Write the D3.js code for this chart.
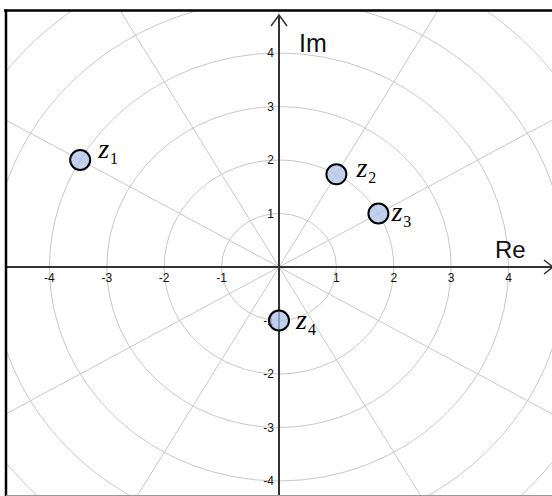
<!DOCTYPE html>
<html>
<head>
<meta charset="utf-8">
<script src="https://cdn.jsdelivr.net/npm/d3@7"></script>
<style>
  body { margin: 0; background: #fff; }
  svg { display: block; }
</style>
</head>
<body>
<svg id="chart"></svg>
<script>
// complex numbers to plot (real / imaginary parts)
let names = ['1', '2', '3', '4']
let reParts = [-3.464, 1, 1.732, 0]
let imParts = [2, 1.732, 1, -1]

// tick labels on both axes
let ticks = [-4, -3, -2, -1, 1, 2, 3, 4]

// polar grid: rings and spoke angles (degrees)
let rings = [1, 2, 3, 4, 5, 6, 7]
let spokes = [0, 30, 60, 90, 120, 150, 180, 210, 240, 270, 300, 330]

// label offsets from each point (layout only)
let labelDx = [18, 20, 13, 17]
let labelDy = [-2, 3, 7, 8]

let width = 552
let height = 496
let originX = 279
let originY = 267
let unitX = 57.4
let unitY = 53.5

let svg = d3.select('#chart')
    .attr('width', width)
    .attr('height', height)

let xScale = d3.scaleLinear()
    .domain([-4, 4])
    .range([originX - 4 * unitX, originX + 4 * unitX])

let yScale = d3.scaleLinear()
    .domain([-4, 4])
    .range([originY + 4 * unitY, originY - 4 * unitY])

// clip everything to the framed area
svg.append('clipPath')
    .attr('id', 'frame')
    .append('rect')
    .attr('x', 6)
    .attr('y', 10)
    .attr('width', width - 6)
    .attr('height', 485)

let plot = svg.append('g').attr('clip-path', 'url(#frame)')

// rings
plot.selectAll('ellipse.ring')
    .data(rings)
    .enter()
    .append('ellipse')
    .attr('class', 'ring')
    .attr('cx', xScale(0))
    .attr('cy', yScale(0))
    .attr('rx', (r) => xScale(r) - xScale(0))
    .attr('ry', (r) => yScale(0) - yScale(r))
    .attr('fill', 'none')
    .attr('stroke', '#c8c8c8')
    .attr('stroke-width', 1)

// spokes
plot.selectAll('line.spoke')
    .data(spokes)
    .enter()
    .append('line')
    .attr('class', 'spoke')
    .attr('x1', xScale(0))
    .attr('y1', yScale(0))
    .attr('x2', (a) => xScale(12 * Math.cos(a * Math.PI / 180)))
    .attr('y2', (a) => yScale(12 * Math.sin(a * Math.PI / 180)))
    .attr('stroke', '#c8c8c8')
    .attr('stroke-width', 1)

// axes
let axisColor = '#333'
plot.append('line')
    .attr('x1', 0).attr('x2', width)
    .attr('y1', yScale(0)).attr('y2', yScale(0))
    .attr('stroke', axisColor).attr('stroke-width', 2)

plot.append('line')
    .attr('x1', xScale(0)).attr('x2', xScale(0))
    .attr('y1', 15).attr('y2', height)
    .attr('stroke', axisColor).attr('stroke-width', 2)

// arrow heads
plot.append('path')
    .attr('d', 'M' + (xScale(0) - 8) + ',' + 26 + 'L' + xScale(0) + ',' + 15 + 'L' + (xScale(0) + 8) + ',' + 26)
    .attr('fill', 'none').attr('stroke', axisColor).attr('stroke-width', 1.5)

plot.append('path')
    .attr('d', 'M' + 544 + ',' + (yScale(0) - 7) + 'L' + 553 + ',' + yScale(0) + 'L' + 544 + ',' + (yScale(0) + 7))
    .attr('fill', 'none').attr('stroke', axisColor).attr('stroke-width', 1.5)

// tick labels
plot.selectAll('text.xtick')
    .data(ticks)
    .enter()
    .append('text')
    .attr('class', 'xtick')
    .attr('x', (t) => xScale(t))
    .attr('y', yScale(0) + 15)
    .attr('text-anchor', 'middle')
    .attr('font-family', 'Liberation Sans, Arial, sans-serif')
    .attr('font-size', 12)
    .attr('fill', '#111')
    .text((t) => t)

plot.selectAll('text.ytick')
    .data(ticks)
    .enter()
    .append('text')
    .attr('class', 'ytick')
    .attr('x', xScale(0) - 5)
    .attr('y', (t) => yScale(t) + 4)
    .attr('text-anchor', 'end')
    .attr('font-family', 'Liberation Sans, Arial, sans-serif')
    .attr('font-size', 12)
    .attr('fill', '#111')
    .text((t) => t)

// axis names
plot.append('text')
    .attr('x', 299).attr('y', 52)
    .attr('font-family', 'Liberation Sans, Arial, sans-serif')
    .attr('font-size', 25)
    .attr('fill', '#111')
    .text('Im')

plot.append('text')
    .attr('x', 495).attr('y', 258)
    .attr('font-family', 'Liberation Sans, Arial, sans-serif')
    .attr('font-size', 24)
    .attr('fill', '#111')
    .text('Re')

// points
let points = names.map((n, i) => ({ name: n, re: reParts[i], im: imParts[i], i: i }))

plot.selectAll('circle.pt')
    .data(points)
    .enter()
    .append('circle')
    .attr('class', 'pt')
    .attr('cx', (d) => xScale(d.re))
    .attr('cy', (d) => yScale(d.im))
    .attr('r', 10)
    .attr('fill', '#aec3e8')
    .attr('fill-opacity', 0.75)
    .attr('stroke', '#000')
    .attr('stroke-width', 2)

let labels = plot.selectAll('text.zlabel')
    .data(points)
    .enter()
    .append('text')
    .attr('class', 'zlabel')
    .attr('x', (d) => xScale(d.re) + labelDx[d.i])
    .attr('y', (d) => yScale(d.im) + labelDy[d.i])
    .attr('font-family', 'Liberation Serif, serif')
    .attr('fill', '#000')

labels.append('tspan')
    .attr('font-size', 28)
    .attr('font-style', 'italic')
    .text('z')

labels.append('tspan')
    .attr('font-size', 16)
    .attr('dx', 1)
    .attr('dy', 6)
    .text((d) => d.name)

// frame
svg.append('line')
    .attr('x1', 4).attr('x2', width)
    .attr('y1', 10.5).attr('y2', 10.5)
    .attr('stroke', '#000').attr('stroke-width', 2.5)

svg.append('line')
    .attr('x1', 6).attr('x2', 6)
    .attr('y1', 9.5).attr('y2', height)
    .attr('stroke', '#000').attr('stroke-width', 2.5)

svg.append('line')
    .attr('x1', 6).attr('x2', width)
    .attr('y1', 495.5).attr('y2', 495.5)
    .attr('stroke', '#999').attr('stroke-width', 1)
</script>
</body>
</html>
